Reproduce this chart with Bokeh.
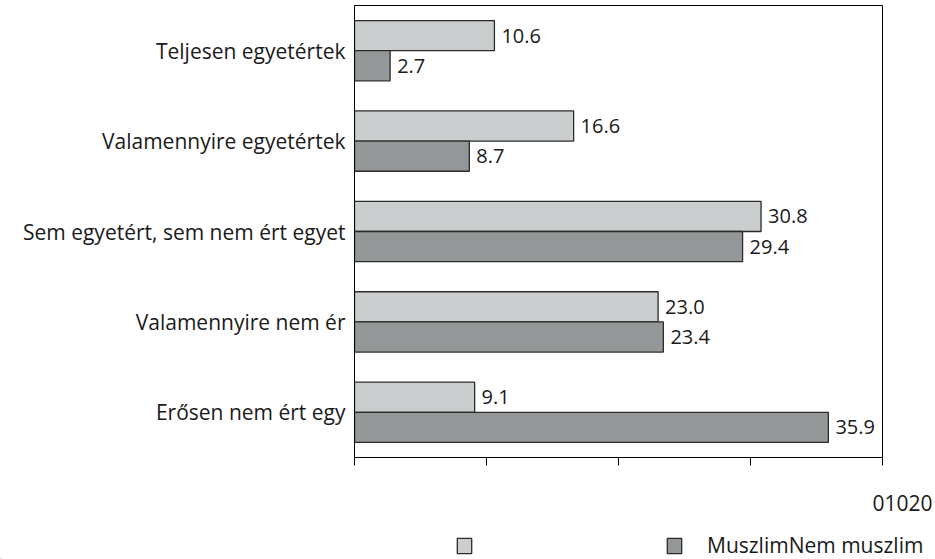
from bokeh.plotting import figure
from bokeh.layouts import column
from bokeh.models import Range1d, Legend, LegendItem, ColumnDataSource, FixedTicker, Label
from bokeh.core.properties import value
from bokeh.embed import file_html
from bokeh.resources import INLINE

# ---- data ----
categories = ["Teljesen egyetértek", "Valamennyire egyetértek",
              "Sem egyetért, sem nem ért egyet", "Valamennyire nem ért egyet",
              "Erősen nem ért egyet"]
shown_labels = ["Teljesen egyetértek", "Valamennyire egyetértek",
                "Sem egyetért, sem nem ért egyet", "Valamennyire nem ér",
                "Erősen nem ért egy"]
series_names = ["Muszlim", "Nem muszlim"]
muszlim = [10.6, 16.6, 30.8, 23.0, 9.1]
nem_muszlim = [2.7, 8.7, 29.4, 23.4, 35.9]
x_ticks = [0, 10, 20, 30, 40]
x_tick_labels = ["0", "10", "20", "30", "40"]

FONT = "Open Sans"
LIGHT = "#CBCECE"
DARK = "#949797"
EDGE = "#2b2b2b"
TXT = "#1a1a1a"

n = len(categories)
centers = [n - 0.5 - i for i in range(n)]

W = 935
H_MAIN = 480
H_LEG = 559 - H_MAIN

p = figure(width=W, height=H_MAIN, output_backend="svg", toolbar_location=None,
           title=None, x_range=Range1d(0, 40), y_range=Range1d(0, n),
           min_border_left=354, min_border_right=53, min_border_top=5,
           min_border_bottom=23)
p.frame_align = False
p.outline_line_color = "black"
p.outline_line_width = 1
p.grid.visible = False
p.background_fill_color = "white"

src1 = ColumnDataSource(dict(y=[c + 1/6 for c in centers], x=muszlim,
                             t=[f"{v:.1f}" for v in muszlim]))
src2 = ColumnDataSource(dict(y=[c - 1/6 for c in centers], x=nem_muszlim,
                             t=[f"{v:.1f}" for v in nem_muszlim]))

r1 = p.hbar(y="y", right="x", left=0, height=1/3, source=src1,
            fill_color=LIGHT, line_color=EDGE, line_width=1.3)
r2 = p.hbar(y="y", right="x", left=0, height=1/3, source=src2,
            fill_color=DARK, line_color=EDGE, line_width=1.3)

for s in (src1, src2):
    p.text(x="x", y="y", text="t", source=s, x_offset=7, text_baseline="middle",
           text_align="left", text_font=value(FONT), text_font_size="20px",
           text_color=TXT)

# x axis: tick marks only
xa = p.xaxis[0]
xa.ticker = FixedTicker(ticks=x_ticks)
xa.major_label_overrides = {t: "" for t in x_ticks}
xa.major_label_standoff = 0
xa.minor_tick_line_color = None
xa.major_tick_in = 0
xa.major_tick_out = 8
xa.axis_line_color = "black"
xa.major_tick_line_color = "black"

# y axis: category labels
ya = p.yaxis[0]
ya.ticker = FixedTicker(ticks=centers)
ya.major_label_overrides = {c: lab for c, lab in zip(centers, shown_labels)}
ya.major_tick_line_color = None
ya.major_tick_in = 0
ya.major_tick_out = 0
ya.minor_tick_line_color = None
ya.axis_line_color = "black"
ya.major_label_standoff = 9
ya.major_label_text_font = FONT
ya.major_label_text_font_size = "21px"
ya.major_label_text_color = TXT

# ---- lower strip: run-together tick labels and legend ----
q = figure(width=W, height=H_LEG, output_backend="svg", toolbar_location=None,
           title=None, x_range=Range1d(0, W), y_range=Range1d(0, H_LEG),
           x_axis_location=None, y_axis_location=None,
           min_border_left=0, min_border_right=0, min_border_top=0,
           min_border_bottom=0)
q.frame_align = False
q.outline_line_color = None
q.grid.visible = False

q.add_layout(Label(x=W - 3, y=H_LEG - 22, text="".join(x_tick_labels[:3]),
                   text_align="right", text_baseline="middle", text_font=FONT,
                   text_font_size="21px", text_color=TXT))

# swatch renderers for the legend (kept below the visible range)
swatch = ColumnDataSource(dict(y=[-100], right=[1]))
l1 = q.hbar(y="y", right="right", left=0, height=1, source=swatch,
            fill_color=LIGHT, line_color=EDGE, line_width=1.3)
l2 = q.hbar(y="y", right="right", left=0, height=1, source=swatch,
            fill_color=DARK, line_color=EDGE, line_width=1.3)

legend = Legend(items=[LegendItem(label=" ", renderers=[l1], index=0),
                       LegendItem(label="".join(series_names), renderers=[l2], index=0)],
                orientation="horizontal", location=(455, 0),
                glyph_width=18, glyph_height=19, label_standoff=24,
                label_width=160, spacing=8, padding=0, margin=0,
                label_height=19, border_line_color=None,
                background_fill_alpha=0, label_text_font=FONT,
                label_text_font_size="21px", label_text_color=TXT)
q.add_layout(legend, "center")

layout = column(p, q, spacing=0)
open("out.html", "w").write(file_html(layout, INLINE))
